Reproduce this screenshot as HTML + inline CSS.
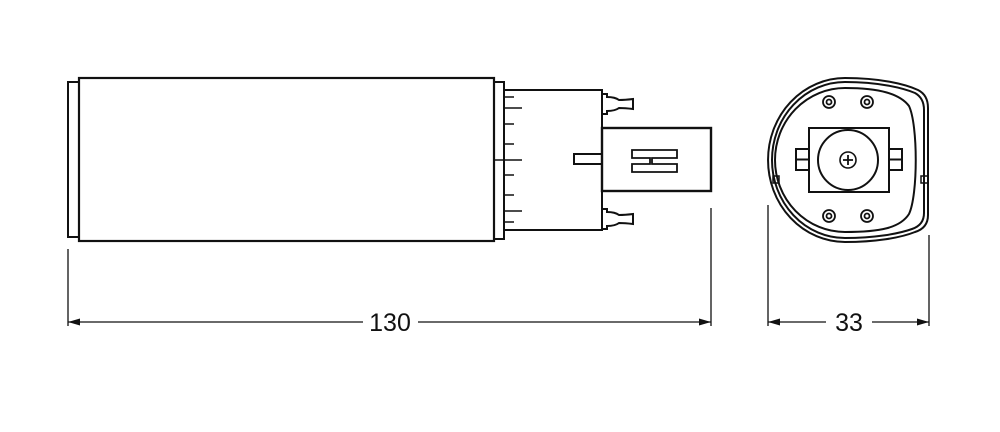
<!DOCTYPE html>
<html><head><style>
body{margin:0;background:#fff;width:1000px;height:427px;overflow:hidden}
text{font-family:"Liberation Sans",sans-serif;font-size:25px;fill:#111}
</style></head><body>
<svg width="1000" height="427" viewBox="0 0 1000 427" xmlns="http://www.w3.org/2000/svg">
<g fill="none" stroke="#111" stroke-width="2">
<rect x="68" y="82" width="11" height="155"/>
<rect x="79" y="78" width="415" height="163" stroke-width="2.2"/>
<rect x="494" y="82" width="10" height="157"/>
<rect x="504" y="90" width="98" height="140"/>
<g stroke-width="1.5">
<line x1="504" y1="97" x2="514" y2="97"/><line x1="504" y1="108" x2="522" y2="108"/>
<line x1="504" y1="124" x2="514" y2="124"/><line x1="504" y1="144" x2="514" y2="144"/>
<line x1="494" y1="160" x2="522" y2="160"/><line x1="504" y1="175" x2="514" y2="175"/>
<line x1="504" y1="195" x2="514" y2="195"/><line x1="504" y1="211" x2="522" y2="211"/>
<line x1="504" y1="222" x2="514" y2="222"/>
</g>
<path d="M602,94 h5 v3 q8,0 12,3 q6,0 14,-1 v10 q-8,-1 -14,-1 q-4,3 -12,3 v3 h-5z"/>
<path d="M602,209 h5 v3 q8,0 12,3 q6,0 14,-1 v10 q-8,-1 -14,-1 q-4,3 -12,3 v3 h-5z"/>
<rect x="602" y="128" width="109" height="63" stroke-width="2.4"/>
<rect x="574" y="154" width="28" height="10"/>
<path d="M632,150 H677 V158 H652 V164 H677 V172 H632 V164 H650 V158 H632 Z" stroke-width="1.8"/>
<path d="M845,78 C880,78 905,84 918,90 Q928,95 928,108 L928,215 Q928,228 915,232 C900,238 875,242 845,242 A77,82 0 0 1 845,78 Z"/>
<path d="M845,82 C879,82 903,88 915,93 Q924,98 924,110 L924,213 Q924,225 912,229 C898,234 874,238 845,238 A73,78 0 0 1 845,82 Z"/>
<path d="M845,88 C880,88 900,94 909,106 C918,125 918,195 909,214 C900,228 880,232 845,232 A70,72 0 0 1 845,88 Z"/>
<rect x="773" y="176" width="6" height="7" stroke-width="1.5"/>
<rect x="921" y="176" width="7" height="7" stroke-width="1.5"/>
<rect x="809" y="128" width="80" height="64"/>
<circle cx="848" cy="160" r="30"/>
<circle cx="848" cy="160" r="8" stroke-width="1.6"/>
<path d="M843,160h10M848,155v10" stroke-width="1.8"/>
<rect x="796" y="149" width="13" height="21"/><line x1="796" y1="159.5" x2="809" y2="159.5"/>
<rect x="889" y="149" width="13" height="21"/><line x1="889" y1="159.5" x2="902" y2="159.5"/>
<g stroke-width="1.8">
<circle cx="829" cy="102" r="6"/><circle cx="829" cy="102" r="2.5"/>
<circle cx="867" cy="102" r="6"/><circle cx="867" cy="102" r="2.5"/>
<circle cx="829" cy="216" r="6"/><circle cx="829" cy="216" r="2.5"/>
<circle cx="867" cy="216" r="6"/><circle cx="867" cy="216" r="2.5"/>
</g>
<g stroke-width="1.3">
<line x1="68" y1="249" x2="68" y2="326"/>
<line x1="711" y1="208" x2="711" y2="326"/>
<line x1="68" y1="322" x2="363" y2="322"/>
<line x1="418" y1="322" x2="711" y2="322"/>
<line x1="768" y1="205" x2="768" y2="326"/>
<line x1="929" y1="235" x2="929" y2="326"/>
<line x1="768" y1="322" x2="826" y2="322"/>
<line x1="872" y1="322" x2="929" y2="322"/>
</g>
</g>
<g fill="#111">
<path d="M68,322 l12,-3.5 v7z"/><path d="M711,322 l-12,-3.5 v7z"/>
<path d="M768,322 l12,-3.5 v7z"/><path d="M929,322 l-12,-3.5 v7z"/>
</g>
<text x="390" y="331" text-anchor="middle">130</text>
<text x="849" y="331" text-anchor="middle">33</text>
</svg>
</body></html>
